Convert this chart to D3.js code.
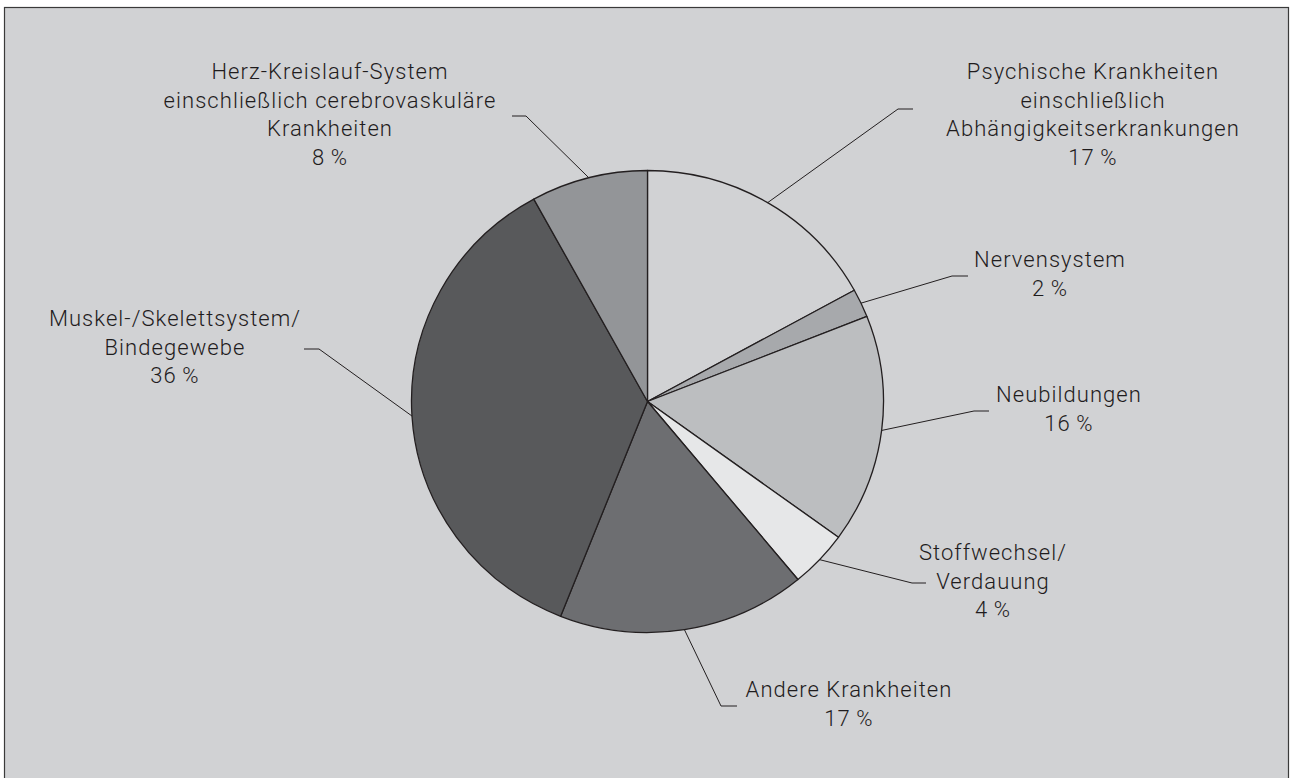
<!DOCTYPE html>
<html lang="de">
<head>
<meta charset="utf-8">
<script src="https://cdn.jsdelivr.net/npm/d3@7/dist/d3.min.js"></script>
<style>
  html, body { margin: 0; padding: 0; background: #ffffff; }
  svg { display: block; }
  text { font-family: Roboto, "Noto Sans", sans-serif; fill: #1f1c1d; font-weight: 300; }
</style>
</head>
<body>
<svg id="chart" width="1290" height="778"></svg>
<script>
// Anteile der Diagnosegruppen (Prozent), im Uhrzeigersinn ab 12 Uhr
const categories = [
  "Psychische Krankheiten einschließlich Abhängigkeitserkrankungen",
  "Nervensystem",
  "Neubildungen",
  "Stoffwechsel/Verdauung",
  "Andere Krankheiten",
  "Muskel-/Skelettsystem/Bindegewebe",
  "Herz-Kreislauf-System einschließlich cerebrovaskuläre Krankheiten"
];
const shares = [17, 2, 16, 4, 17, 36, 8];
const labelLines = [
  ["Psychische Krankheiten", "einschließlich", "Abhängigkeitserkrankungen"],
  ["Nervensystem"],
  ["Neubildungen"],
  ["Stoffwechsel/", "Verdauung"],
  ["Andere Krankheiten"],
  ["Muskel-/Skelettsystem/", "Bindegewebe"],
  ["Herz-Kreislauf-System", "einschließlich cerebrovaskuläre", "Krankheiten"]
];
const fills = ["#d1d2d4", "#a7a9ac", "#bcbec0", "#e6e7e8", "#6d6e71", "#58595b", "#939598"];

// Beschriftungslayout: Textmitte, erste Grundlinie, Knickpunkt und Ende der Führungslinie
const labelLayout = [
  { x: 1093, y: 79,  elbow: [898, 109], end: [913, 109] },
  { x: 1050, y: 267, elbow: [952, 276], end: [968, 276] },
  { x: 1069, y: 402, elbow: [974, 411], end: [989, 411] },
  { x: 993,  y: 560, elbow: [912, 583], end: [926, 583] },
  { x: 849,  y: 697, elbow: [721, 706], end: [737, 706] },
  { x: 175,  y: 326, elbow: [319, 349], end: [304, 349] },
  { x: 330,  y: 79,  elbow: [526, 116], end: [512, 116] }
];

const W = 1290, H = 778;
const cx = 647.5, cy = 401.5;
const ry = 231, rx = 236;
const lineGap = 28.7;

const svg = d3.select("#chart");

// Hintergrundfläche mit Rahmen
svg.append("rect")
  .attr("x", 4.5).attr("y", 7.5)
  .attr("width", 1284).attr("height", 800)
  .attr("fill", "#d1d2d4")
  .attr("stroke", "#3a3a3a")
  .attr("stroke-width", 1.2);

const pie = d3.pie().sort(null).value(d => d)(shares);
const arc = d3.arc().innerRadius(0).outerRadius(ry);

const g = svg.append("g")
  .attr("transform", `translate(${cx},${cy}) scale(${rx / ry},1)`);

g.selectAll("path.slice")
  .data(pie)
  .join("path")
  .attr("class", "slice")
  .attr("d", arc)
  .attr("fill", (d, i) => fills[i])
  .attr("stroke", "#231f20")
  .attr("stroke-width", 1.3)
  .attr("stroke-linejoin", "round")
  .attr("vector-effect", "non-scaling-stroke");

// Führungslinien vom Kreisrand (Segmentmitte) zur Beschriftung
const edgePoint = d => {
  const a = (d.startAngle + d.endAngle) / 2;
  return [cx + rx * Math.sin(a), cy - ry * Math.cos(a)];
};

svg.append("g").selectAll("polyline")
  .data(pie)
  .join("polyline")
  .attr("points", (d, i) => {
    const p = edgePoint(d), L = labelLayout[i];
    return [p, L.elbow, L.end].map(q => q.join(",")).join(" ");
  })
  .attr("fill", "none")
  .attr("stroke", "#231f20")
  .attr("stroke-width", 1);

// Beschriftungen mit Prozentwert
const labels = svg.append("g").selectAll("text")
  .data(pie)
  .join("text")
  .attr("text-anchor", "middle")
  .attr("font-size", 22)
  .attr("letter-spacing", 1.05)
  .attr("x", (d, i) => labelLayout[i].x)
  .attr("y", (d, i) => labelLayout[i].y);

labels.each(function (d, i) {
  const t = d3.select(this);
  const lines = labelLines[i].concat([`${d.data}\u2009%`]);
  lines.forEach((s, k) => {
    t.append("tspan")
      .attr("x", labelLayout[i].x)
      .attr("y", labelLayout[i].y + k * lineGap)
      .text(s);
  });
});
</script>
</body>
</html>
